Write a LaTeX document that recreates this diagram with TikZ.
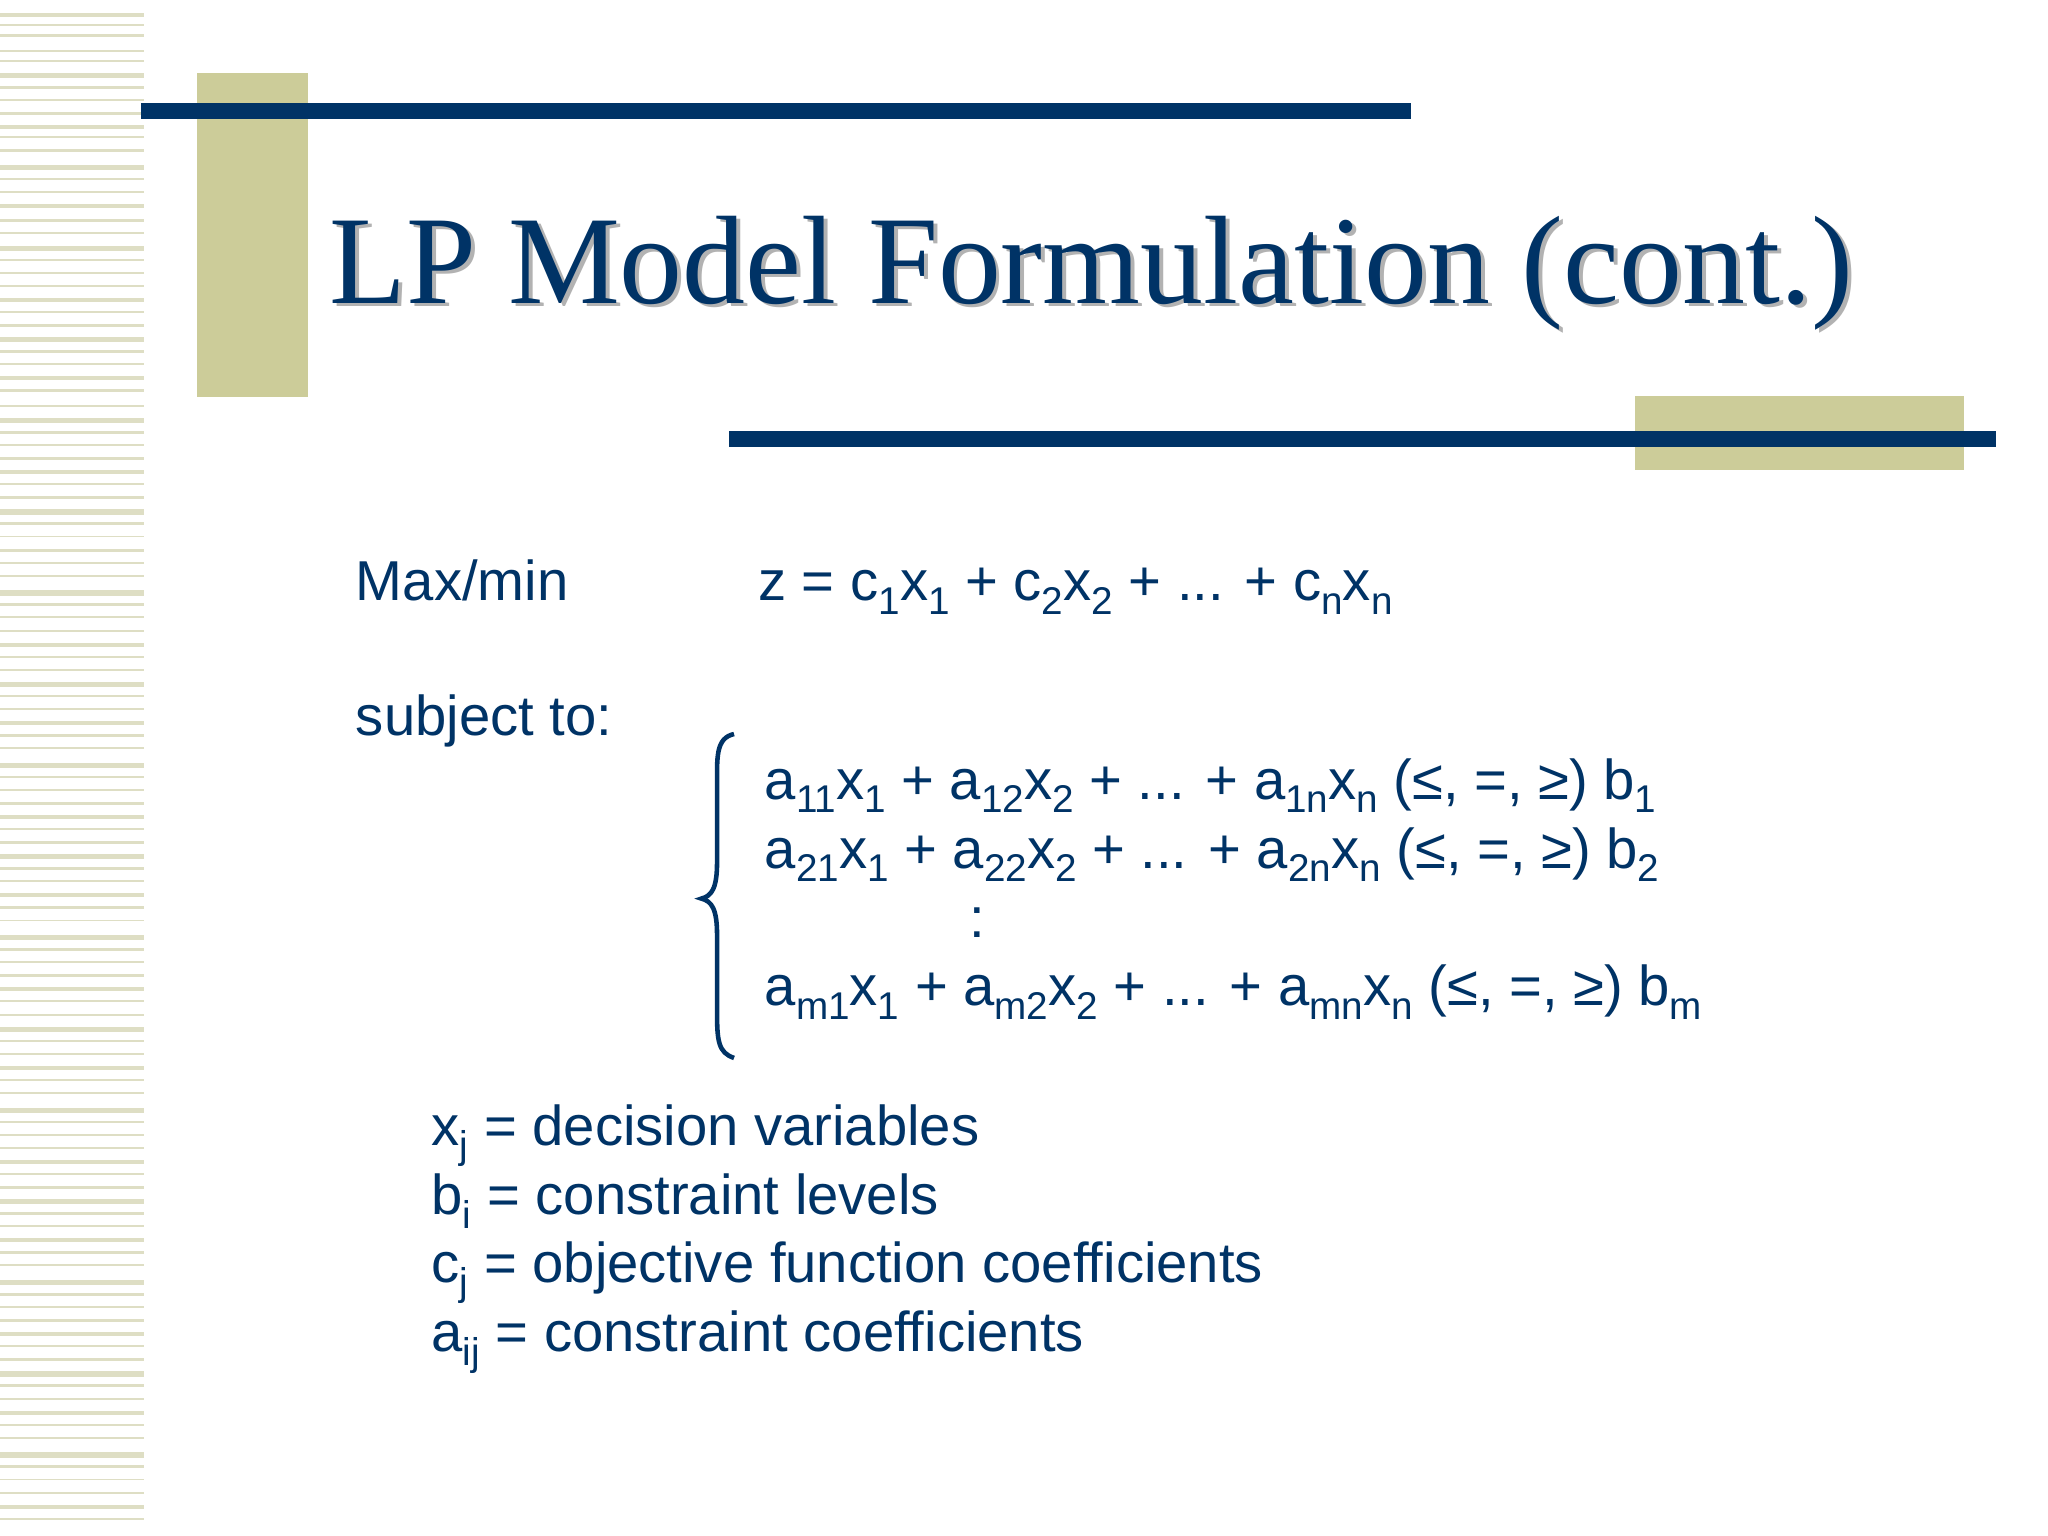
\documentclass[tikz,border=0pt]{standalone}
\usepackage{fontspec}
\setmainfont{Liberation Sans}
\newfontfamily\titlefont{Liberation Serif}
\definecolor{navy}{RGB}{0,51,102}
\definecolor{beige}{RGB}{204,204,153}
\definecolor{stripe}{RGB}{222,222,196}
\newcommand{\lsub}[1]{\raisebox{-0.45ex}{\fontsize{11}{12}\selectfont #1}}
\begin{document}
\begin{tikzpicture}[x=0.013061cm,y=-0.013061cm,
  body/.style={anchor=base west,inner sep=0pt,text=navy,font=\fontsize{16}{19}\selectfont}]
\useasboundingbox (0,0) rectangle (1568,1176);
\fill[white] (0,0) rectangle (1568,1176);
% stripes
\foreach \y/\h in {10/3,18/2,26/2,38/2,46/1.5,56/4,66/2,76/1.5,86/2,96/3,104/1.5,114/2,126/4,136/2,146/1.5,156/3,168/2,178/1.5,188/4,198/2,208/1.5,218/2,228/3,238/1.5,248/2,258/4,268/2,278/1.5,288/3,298/2,310/1.5,320/4,330/2,340/1.5,350/2,360/3,370/1.5,380/2,390/4,400/2,410/1.5,420/3,430/2,440/1.5,452/4,462/2,472/1.5,482/2,492/3,502/1.5,512/2,522/4,532/2,542/1.5,552/3,562/2,572/1.5,584/4,594/2,604/1.5,614/2,624/3,634/1.5,644/2,654/4,664/2,674/1.5,684/3,694/2,704/1.5,716/4,726/2,736/1.5,746/2,756/3,766/1.5,776/2,786/4,796/2,806/1.5,816/3,826/2,836/1.5,848/4,858/2,868/1.5,878/2,888/3,898/1.5,908/2,918/4,928/2,938/1.5,948/3,958/2,968/1.5,980/4,990/2,1000/1.5,1010/2,1020/3,1030/1.5,1040/2,1050/4,1060/2,1070/1.5,1080/3,1090/2,1100/1.5,1112/4,1122/2,1132/1.5,1142/2,1152/3,1162/1.5}
  \fill[stripe] (0,\y) rectangle (110,\y+\h);
% decorations
\fill[beige] (151,56) rectangle (236,304);
\fill[navy] (108,79) rectangle (1080,91);
\fill[beige] (1252,303) rectangle (1504,360);
\fill[navy] (558,330) rectangle (1528,342);
% title
\node[anchor=base west,inner sep=0pt,text=black!30,font=\titlefont\fontsize{35.8}{40}\selectfont] at (255,235) {LP Model Formulation (cont.)};
\node (title) [anchor=base west,inner sep=0pt,text=navy,font=\titlefont\fontsize{35.8}{40}\selectfont] at (252,232) {LP Model Formulation (cont.)};
% body
\node (max) [body] at (272,460) {Max/min};
\node (obj) [body] at (580,460) {z = c\lsub{1}x\lsub{1} + c\lsub{2}x\lsub{2} + ... + c\lsub{n}x\lsub{n}};
\node (st) [body] at (272,563) {subject to:};
\node (c1) [body] at (585,612) {a\lsub{11}x\lsub{1} + a\lsub{12}x\lsub{2} + ... + a\lsub{1n}x\lsub{n} (≤, =, ≥) b\lsub{1}};
\node (c2) [body] at (585,665) {a\lsub{21}x\lsub{1} + a\lsub{22}x\lsub{2} + ... + a\lsub{2n}x\lsub{n} (≤, =, ≥) b\lsub{2}};
\node (dots) [body] at (742,718) {:};
\node (c3) [body] at (585,770) {a\lsub{m1}x\lsub{1} + a\lsub{m2}x\lsub{2} + ... + a\lsub{mn}x\lsub{n} (≤, =, ≥) b\lsub{m}};
\draw[navy,line width=1.3pt] (562,562) .. controls (548,565) and (549,580) .. (549,600)
  -- (549,660) .. controls (549,680) and (545,686) .. (537,688)
  .. controls (545,690) and (549,696) .. (549,716) -- (549,775)
  .. controls (549,797) and (550,806) .. (562,810);
\node (d1) [body] at (330,877) {x\lsub{j} = decision variables};
\node (d2) [body] at (330,930) {b\lsub{i} = constraint levels};
\node (d3) [body] at (330,982) {c\lsub{j} = objective function coefficients};
\node (d4) [body] at (330,1035) {a\lsub{ij} = constraint coefficients};
\end{tikzpicture}
\end{document}
